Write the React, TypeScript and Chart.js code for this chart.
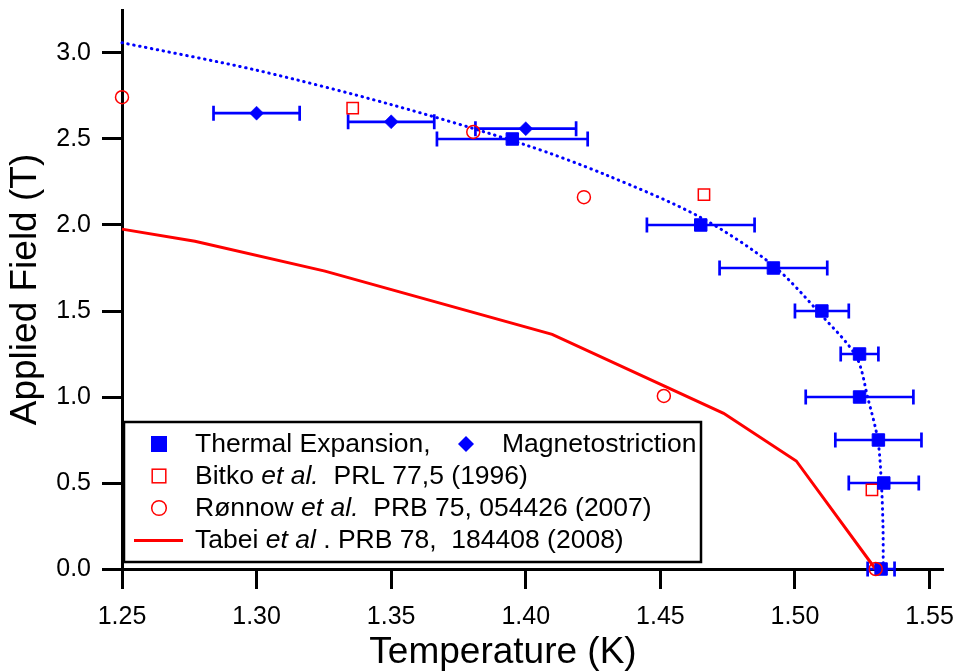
import React, { useEffect, useRef } from 'react';
import { Chart, registerables } from 'chart.js';

Chart.register(...registerables);

const FONT = "'Liberation Sans', Arial, Helvetica, sans-serif";
const BLUE = '#0000ff';
const RED = '#ff0000';

// Thermal expansion (filled squares) with horizontal error
const teT = [1.395, 1.465, 1.492, 1.51, 1.524, 1.524, 1.531, 1.533, 1.532];
const teH = [2.5, 2.0, 1.75, 1.5, 1.25, 1.0, 0.75, 0.5, 0.0];
const teErr = [0.028, 0.02, 0.02, 0.01, 0.007, 0.02, 0.016, 0.013, 0.005];

// Magnetostriction (diamonds) with horizontal error
const msT = [1.3, 1.35, 1.4];
const msH = [2.65, 2.6, 2.56];
const msErr = [0.016, 0.016, 0.0187];

// Bitko et al. (open squares)
const bitkoT = [1.3357, 1.4662, 1.5286];
const bitkoH = [2.68, 2.177, 0.46];

// Ronnow et al. (open circles)
const ronnowT = [1.25, 1.3805, 1.4216, 1.4513, 1.53];
const ronnowH = [2.743, 2.541, 2.162, 1.006, 0.0];

// Tabei et al. (red line)
const tabeiT = [1.25, 1.2771, 1.3254, 1.4098, 1.4735, 1.5005, 1.5299];
const tabeiH = [1.976, 1.906, 1.732, 1.364, 0.905, 0.628, 0.0];

// Dotted fit curve
const fitT = [1.25, 1.3, 1.35, 1.4, 1.43, 1.4646, 1.4918, 1.5104, 1.5228, 1.5271, 1.5308, 1.5321, 1.5327, 1.5328];
const fitH = [3.06, 2.9, 2.7, 2.465, 2.29, 2.047, 1.766, 1.466, 1.234, 0.992, 0.75, 0.5, 0.25, 0.0];

const xLabel = 'Temperature (K)';
const yLabel = 'Applied Field (T)';

const pts = (xs: number[], ys: number[]) => xs.map((x, i) => ({ x, y: ys[i] }));

const errorBarPlugin = {
  id: 'errorBars',
  beforeDatasetsDraw(chart: any) {
    const ctx = chart.ctx;
    const xs = chart.scales.x;
    const ys = chart.scales.y;
    ctx.save();
    chart.data.datasets.forEach((ds: any) => {
      if (!ds.xErr) return;
      ctx.strokeStyle = BLUE;
      ctx.lineWidth = 2.7;
      ds.data.forEach((p: any, j: number) => {
        const e = ds.xErr[j];
        const py = ys.getPixelForValue(p.y);
        const a = xs.getPixelForValue(p.x - e);
        const b = xs.getPixelForValue(p.x + e);
        ctx.beginPath();
        ctx.moveTo(a, py);
        ctx.lineTo(b, py);
        ctx.moveTo(a, py - 7.5);
        ctx.lineTo(a, py + 7.5);
        ctx.moveTo(b, py - 7.5);
        ctx.lineTo(b, py + 7.5);
        ctx.stroke();
      });
    });
    ctx.restore();
  },
};

const xTitlePlugin = {
  id: 'xTitle',
  afterDraw(chart: any) {
    const ctx: CanvasRenderingContext2D = chart.ctx;
    const ca = chart.chartArea;
    ctx.save();
    ctx.fillStyle = '#000';
    ctx.font = `37px ${FONT}`;
    ctx.textAlign = 'center';
    ctx.textBaseline = 'alphabetic';
    ctx.fillText(xLabel, ca.left + 381, ca.bottom + 94);
    ctx.restore();
  },
};

type Seg = { t: string; it?: boolean };
const legendRow1a: Seg[] = [{ t: 'Thermal Expansion,' }];
const legendRow1b: Seg[] = [{ t: 'Magnetostriction' }];
const legendRow2: Seg[] = [{ t: 'Bitko ' }, { t: 'et al.', it: true }, { t: '  PRL 77,5 (1996)' }];
const legendRow3: Seg[] = [{ t: 'R\u00f8nnow ' }, { t: 'et al.', it: true }, { t: '  PRB 75, 054426 (2007)' }];
const legendRow4: Seg[] = [{ t: 'Tabei ' }, { t: 'et al', it: true }, { t: ' . PRB 78,  184408 (2008)' }];

const LSIZE = 26.5;

function drawSegs(ctx: CanvasRenderingContext2D, segs: Seg[], x: number, y: number) {
  let cx = x;
  segs.forEach((s) => {
    ctx.font = `${s.it ? 'italic ' : ''}${LSIZE}px ${FONT}`;
    ctx.fillText(s.t, cx, y);
    cx += ctx.measureText(s.t).width;
  });
}

const legendPlugin = {
  id: 'customLegend',
  afterDraw(chart: any) {
    const ctx: CanvasRenderingContext2D = chart.ctx;
    const ca = chart.chartArea;
    const x0 = ca.left + 2;
    const y0 = ca.bottom - 147;
    const x1 = ca.left + 579;
    const y1 = ca.bottom - 7;
    ctx.save();
    ctx.fillStyle = '#fff';
    ctx.fillRect(x0, y0, x1 - x0, y1 - y0);
    ctx.lineWidth = 2.5;
    ctx.strokeStyle = '#000';
    ctx.strokeRect(x0, y0, x1 - x0, y1 - y0);

    const sx = x0 + 35;
    const tx = x0 + 71;
    const base = [y0 + 30, y0 + 62, y0 + 94, y0 + 126];

    ctx.fillStyle = BLUE;
    ctx.fillRect(sx - 8, base[0] - 16, 16, 16);
    const dx = x0 + 342;
    const dy = base[0] - 8;
    ctx.beginPath();
    ctx.moveTo(dx - 8, dy);
    ctx.lineTo(dx, dy - 8);
    ctx.lineTo(dx + 8, dy);
    ctx.lineTo(dx, dy + 8);
    ctx.closePath();
    ctx.fill();

    ctx.strokeStyle = RED;
    ctx.lineWidth = 1.5;
    ctx.strokeRect(sx - 6.8, base[1] - 8 - 6.8, 13.6, 13.6);
    ctx.beginPath();
    ctx.arc(sx, base[2] - 8, 7.3, 0, Math.PI * 2);
    ctx.stroke();
    ctx.lineWidth = 3;
    ctx.beginPath();
    ctx.moveTo(sx - 25, base[3] - 7.6);
    ctx.lineTo(sx + 24, base[3] - 7.6);
    ctx.stroke();

    ctx.fillStyle = '#000';
    ctx.textBaseline = 'alphabetic';
    ctx.textAlign = 'left';
    drawSegs(ctx, legendRow1a, tx, base[0]);
    drawSegs(ctx, legendRow1b, x0 + 378, base[0]);
    drawSegs(ctx, legendRow2, tx, base[1]);
    drawSegs(ctx, legendRow3, tx, base[2]);
    drawSegs(ctx, legendRow4, tx, base[3]);
    ctx.restore();
  },
};

export default function App() {
  const ref = useRef<HTMLCanvasElement>(null);

  useEffect(() => {
    document.body.style.margin = '0';
    Chart.defaults.font.family = FONT;
    const datasets: any[] = [
      {
        label: 'Ronnow',
        data: pts(ronnowT, ronnowH),
        pointStyle: 'circle',
        pointRadius: 6.5,
        pointBorderWidth: 1.5,
        pointBorderColor: RED,
        pointBackgroundColor: 'rgba(0,0,0,0)',
        showLine: false,
        clip: false,
        order: 0,
      },
      {
        label: 'Thermal Expansion',
        data: pts(teT, teH),
        xErr: teErr,
        pointStyle: 'rect',
        pointRadius: 8.8,
        pointBorderWidth: 1,
        pointBorderColor: BLUE,
        pointBackgroundColor: BLUE,
        showLine: false,
        clip: false,
        order: 1,
      },
      {
        label: 'Magnetostriction',
        data: pts(msT, msH),
        xErr: msErr,
        pointStyle: 'rectRot',
        pointRadius: 7,
        pointBorderWidth: 0.5,
        pointBorderColor: BLUE,
        pointBackgroundColor: BLUE,
        showLine: false,
        clip: false,
        order: 2,
      },
      {
        label: 'Bitko',
        data: pts(bitkoT, bitkoH),
        pointStyle: 'rect',
        pointRadius: 8,
        pointBorderWidth: 1.5,
        pointBorderColor: RED,
        pointBackgroundColor: 'rgba(0,0,0,0)',
        showLine: false,
        clip: false,
        order: 3,
      },
      {
        label: 'Fit',
        data: pts(fitT, fitH),
        showLine: true,
        pointRadius: 0,
        borderColor: BLUE,
        borderWidth: 3,
        borderDash: [0.5, 5.5],
        borderCapStyle: 'round',
        tension: 0.3,
        clip: false,
        order: 4,
      },
      {
        label: 'Tabei',
        data: pts(tabeiT, tabeiH),
        showLine: true,
        pointRadius: 0,
        borderColor: RED,
        borderWidth: 3,
        tension: 0,
        clip: false,
        order: 5,
      },
    ];

    const chart = new Chart(ref.current as HTMLCanvasElement, {
      type: 'scatter',
      data: { datasets },
      options: {
        responsive: false,
        animation: false,
        devicePixelRatio: 1,
        layout: { padding: { top: 10, right: 16, left: 0, bottom: 0 } },
        plugins: { legend: { display: false }, tooltip: { enabled: false } },
        scales: {
          x: {
            type: 'linear',
            position: 'bottom',
            min: 1.25,
            max: 1.555,
            border: { display: true, color: '#000', width: 3 },
            grid: { display: true, drawOnChartArea: false, drawTicks: true, tickLength: 20, tickWidth: 3, tickColor: '#000' },
            ticks: {
              stepSize: 0.05,
              includeBounds: false,
              autoSkip: false,
              maxRotation: 0,
              color: '#000',
              padding: 13,
              font: { size: 25, family: FONT },
              callback: (v: any) => Number(v).toFixed(2),
            },
            title: { display: false, text: xLabel },
            afterFit: (s: any) => {
              s.height = 102;
              s.paddingLeft = 0;
              s.paddingRight = 0;
            },
          },
          y: {
            type: 'linear',
            position: 'left',
            min: 0,
            max: 3.25,
            border: { display: true, color: '#000', width: 3 },
            grid: { display: true, drawOnChartArea: false, drawTicks: true, tickLength: 20, tickWidth: 3, tickColor: '#000' },
            ticks: {
              stepSize: 0.5,
              includeBounds: false,
              color: '#000',
              padding: 11,
              font: { size: 25, family: FONT },
              callback: (v: any) => Number(v).toFixed(1),
            },
            title: { display: true, text: yLabel, color: '#000', font: { size: 37, family: FONT }, padding: { top: 4, bottom: 0 } },
            afterFit: (s: any) => {
              s.width = 122;
              s.paddingTop = 0;
              s.paddingBottom = 0;
            },
          },
        },
      } as any,
      plugins: [errorBarPlugin, legendPlugin, xTitlePlugin],
    });
    return () => chart.destroy();
  }, []);

  return (
    <div style={{ width: 959, height: 671, position: 'relative' }}>
      <canvas ref={ref} width={959} height={671} style={{ display: 'block' }} />
    </div>
  );
}
